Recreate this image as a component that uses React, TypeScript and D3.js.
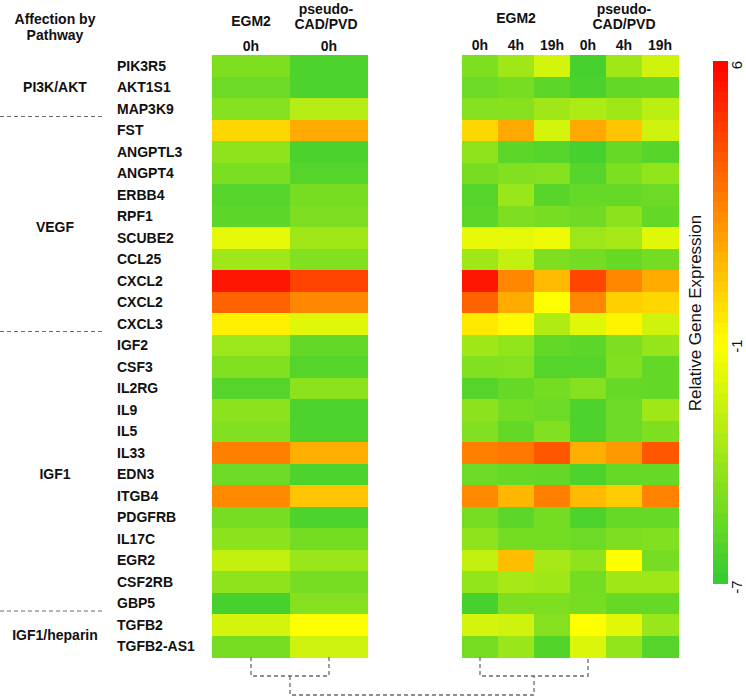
import * as d3 from 'd3'

const genes = [
  'PIK3R5', 'AKT1S1', 'MAP3K9', 'FST', 'ANGPTL3', 'ANGPT4', 'ERBB4', 'RPF1',
  'SCUBE2', 'CCL25', 'CXCL2', 'CXCL2', 'CXCL3', 'IGF2', 'CSF3', 'IL2RG', 'IL9',
  'IL5', 'IL33', 'EDN3', 'ITGB4', 'PDGFRB', 'IL17C', 'EGR2', 'CSF2RB', 'GBP5',
  'TGFB2', 'TGFB2-AS1',
]

const pathwayNames = ['PI3K/AKT', 'VEGF', 'IGF1', 'IGF1/heparin']
const pathwaySizes = [3, 10, 13, 2]

// left panel: 0h only
const leftEgm2 = [
  -4.8, -5.3, -4.6, 0.1, -4.3, -4.9, -6.0, -5.8, -1.8, -3.8, 5.4, 3.3, -0.6, -3.9,
  -4.7, -6.0, -4.4, -4.7, 2.5, -5.3, 2.2, -5.0, -4.4, -2.8, -4.3, -6.4, -2.3, -5.0,
]
const leftPseudo = [
  -6.2, -6.2, -3.2, 1.3, -6.3, -6.0, -5.0, -4.8, -3.8, -4.7, 4.2, 2.3, -1.9, -5.6,
  -6.0, -4.4, -6.2, -6.2, 1.2, -6.2, 0.6, -6.2, -5.1, -4.0, -5.0, -4.6, -1.0, -2.5,
]

// right panel: time course
const egm2_0h = [
  -4.8, -5.3, -4.6, 0.1, -4.3, -5.0, -6.0, -5.8, -1.7, -3.8, 5.4, 3.3, -0.4, -3.8,
  -4.7, -6.0, -4.4, -4.7, 2.5, -5.3, 2.2, -5.0, -4.3, -2.8, -4.2, -6.4, -2.3, -5.0,
]
const egm2_4h = [
  -3.8, -5.0, -4.5, 1.4, -5.8, -4.7, -4.0, -4.8, -1.8, -2.8, 2.3, 1.3, -0.8, -4.2,
  -4.6, -5.5, -5.1, -5.6, 2.7, -5.5, 1.0, -5.8, -5.1, 0.8, -3.6, -4.8, -2.4, -4.0,
]
const egm2_19h = [
  -2.3, -5.8, -3.8, -2.3, -6.0, -4.6, -5.9, -5.0, -1.5, -4.8, 0.9, -1.0, -3.3, -5.6,
  -6.0, -5.1, -5.3, -4.7, 3.6, -5.6, 2.5, -5.1, -5.1, -3.6, -3.8, -4.8, -4.6, -6.1,
]
const pseudo_0h = [
  -6.4, -6.3, -3.4, 1.4, -6.4, -6.0, -5.5, -5.2, -3.9, -5.1, 4.1, 2.3, -1.9, -5.8,
  -6.0, -4.6, -6.2, -6.2, 1.2, -6.2, 0.9, -6.2, -5.3, -4.3, -5.1, -5.0, -1.0, -2.1,
]
const pseudo_4h = [
  -3.8, -5.6, -3.8, 0.6, -5.5, -4.8, -5.5, -4.4, -3.6, -5.5, 2.3, 0.3, -0.7, -4.8,
  -4.7, -5.5, -5.3, -5.3, 1.8, -5.5, 0.4, -5.5, -4.8, -1.0, -3.8, -5.5, -1.9, -4.2,
]
const pseudo_19h = [
  -2.4, -5.5, -3.0, -2.5, -5.9, -4.2, -5.3, -5.6, -1.9, -5.1, 1.3, 0.1, -2.4, -4.1,
  -5.6, -5.6, -3.8, -4.8, 3.6, -5.5, 2.4, -5.5, -4.7, -5.0, -3.8, -5.5, -4.0, -6.0,
]

const leftCols = ['EGM2 0h', 'pseudo 0h']
const leftSeries = [leftEgm2, leftPseudo]
const leftGroupLabels = [['EGM2'], ['pseudo-', 'CAD/PVD']]
const leftTimes = ['0h', '0h']

const rightCols = ['EGM2 0h', 'EGM2 4h', 'EGM2 19h', 'pseudo 0h', 'pseudo 4h', 'pseudo 19h']
const rightSeries = [egm2_0h, egm2_4h, egm2_19h, pseudo_0h, pseudo_4h, pseudo_19h]
const rightTimes = ['0h', '4h', '19h', '0h', '4h', '19h']

const legendTicks = [6, -1, -7]

// dendrogram: leaves joined at height 1, the two panels at height 2
const dendroHeights = [1, 1, 2]

const FONT = '"Liberation Sans", Arial, sans-serif'
const LINE = '#6b6b6b'

export default function App() {
  const width = 746
  const height = 698

  const color = d3.scaleLinear<string>()
    .domain([-7, -1, 6])
    .range(['#33cc33', '#ffff00', '#ff0000'])
    .clamp(true)

  const y = d3.scaleBand<number>().domain(d3.range(genes.length)).range([55, 657])
  const xLeft = d3.scaleBand<string>().domain(leftCols).range([212, 368])
  const xRight = d3.scaleBand<string>().domain(rightCols).range([462, 678])

  const dendroY = d3.scaleLinear().domain([0, 2]).range([657, 695])

  const legendY = d3.scaleLinear().domain([6, -7]).range([61, 583])
  const steps = 52
  const stepValues = d3.range(steps).map(i => -7 + (13 * i) / steps)

  // pathway group boundaries
  const starts = pathwaySizes.map((_, i) => d3.sum(pathwaySizes.slice(0, i)))

  const lc = (c: string) => (xLeft(c) ?? 0) + xLeft.bandwidth() / 2
  const rc = (c: string) => (xRight(c) ?? 0) + xRight.bandwidth() / 2

  const leftA = lc('EGM2 0h')
  const leftB = lc('pseudo 0h')
  const rightA = rc('EGM2 0h')
  const rightB = rc('pseudo 0h')
  const leftMid = (leftA + leftB) / 2
  const rightMid = (rightA + rightB) / 2

  const dendroPath = d3.path()
  dendroPath.moveTo(leftA, dendroY(0))
  dendroPath.lineTo(leftA, dendroY(dendroHeights[0]))
  dendroPath.lineTo(leftB, dendroY(dendroHeights[0]))
  dendroPath.lineTo(leftB, dendroY(0))
  dendroPath.moveTo(rightA, dendroY(0))
  dendroPath.lineTo(rightA, dendroY(dendroHeights[1]))
  dendroPath.lineTo(rightB, dendroY(dendroHeights[1]))
  dendroPath.lineTo(rightB, dendroY(0))
  dendroPath.moveTo(leftMid, dendroY(dendroHeights[0]))
  dendroPath.lineTo(leftMid, dendroY(dendroHeights[2]))
  dendroPath.lineTo(rightMid, dendroY(dendroHeights[2]))
  dendroPath.lineTo(rightMid, dendroY(dendroHeights[1]))

  return (
    <svg
      width={width}
      height={height}
      style={{position: 'absolute', left: 0, top: 0, background: '#fff'}}
      fontFamily={FONT}
    >
      {/* header */}
      <g fontWeight={700} fontSize={14} textAnchor={'middle'} fill={'#111'}>
        <text x={55} y={24}>Affection by</text>
        <text x={55} y={40}>Pathway</text>

        {leftGroupLabels.map((lines, i) => lines.map((t, j) => (
          <text
            key={`lg${i}${j}`}
            x={lc(leftCols[i]) - (i === 1 ? 3 : 0)}
            y={lines.length === 1 ? 26 : 14 + j * 15}
          >
            {t}
          </text>
        )))}
        {leftTimes.map((t, i) => (
          <text key={`lt${i}`} x={lc(leftCols[i])} y={51}>{t}</text>
        ))}

        <text x={(rc(rightCols[0]) + rc(rightCols[2])) / 2} y={23}>EGM2</text>
        <text x={(rc(rightCols[3]) + rc(rightCols[5])) / 2} y={14}>pseudo-</text>
        <text x={(rc(rightCols[3]) + rc(rightCols[5])) / 2} y={29}>CAD/PVD</text>
        {rightTimes.map((t, i) => (
          <text key={`rt${i}`} x={rc(rightCols[i])} y={50}>{t}</text>
        ))}
      </g>

      {/* pathway labels and separators */}
      <g fontWeight={700} fontSize={14} fill={'#111'}>
        {pathwayNames.map((p, i) => {
          const top = y(starts[i]) ?? 0
          const bottom = (y(starts[i] + pathwaySizes[i] - 1) ?? 0) + y.bandwidth()
          return (
            <text key={p} x={55} y={(top + bottom) / 2} dy={'0.35em'} textAnchor={'middle'}>
              {p}
            </text>
          )
        })}
        {starts.slice(1).map(s => (
          <line
            key={s}
            x1={0}
            x2={103}
            y1={(y(s) ?? 0) - 3}
            y2={(y(s) ?? 0) - 3}
            stroke={LINE}
            strokeWidth={1}
            strokeDasharray={'4,3'}
          />
        ))}
        {genes.map((g, i) => (
          <text key={`g${i}`} x={117} y={(y(i) ?? 0) + y.bandwidth() / 2} dy={'0.35em'}>
            {g}
          </text>
        ))}
      </g>

      {/* heatmaps */}
      <g shapeRendering={'crispEdges'}>
        {leftSeries.map((s, c) => s.map((v, r) => (
          <rect
            key={`l${c}-${r}`}
            x={xLeft(leftCols[c])}
            y={y(r)}
            width={xLeft.bandwidth()}
            height={y.bandwidth() + 0.5}
            fill={color(v)}
          />
        )))}
        {rightSeries.map((s, c) => s.map((v, r) => (
          <rect
            key={`r${c}-${r}`}
            x={xRight(rightCols[c])}
            y={y(r)}
            width={xRight.bandwidth() + 0.5}
            height={y.bandwidth() + 0.5}
            fill={color(v)}
          />
        )))}
      </g>

      {/* dendrogram */}
      <path
        d={dendroPath.toString()}
        fill={'none'}
        stroke={LINE}
        strokeWidth={1.3}
        strokeDasharray={'4,3'}
      />

      {/* colour legend */}
      <g shapeRendering={'crispEdges'}>
        {stepValues.map((v, i) => (
          <rect
            key={`s${i}`}
            x={713}
            y={legendY(v + 13 / steps)}
            width={15}
            height={legendY(v) - legendY(v + 13 / steps) + 0.5}
            fill={color(v + 6.5 / steps)}
          />
        ))}
      </g>
      <g fontSize={15} fill={'#111'} textAnchor={'middle'}>
        {legendTicks.map(t => (
          <text key={t} transform={`translate(742, ${legendY(t) + 4}) rotate(-90)`}>
            {t}
          </text>
        ))}
        <text transform={`translate(701, 313) rotate(-90)`} fontSize={17}>
          Relative Gene Expression
        </text>
      </g>
    </svg>
  )
}
